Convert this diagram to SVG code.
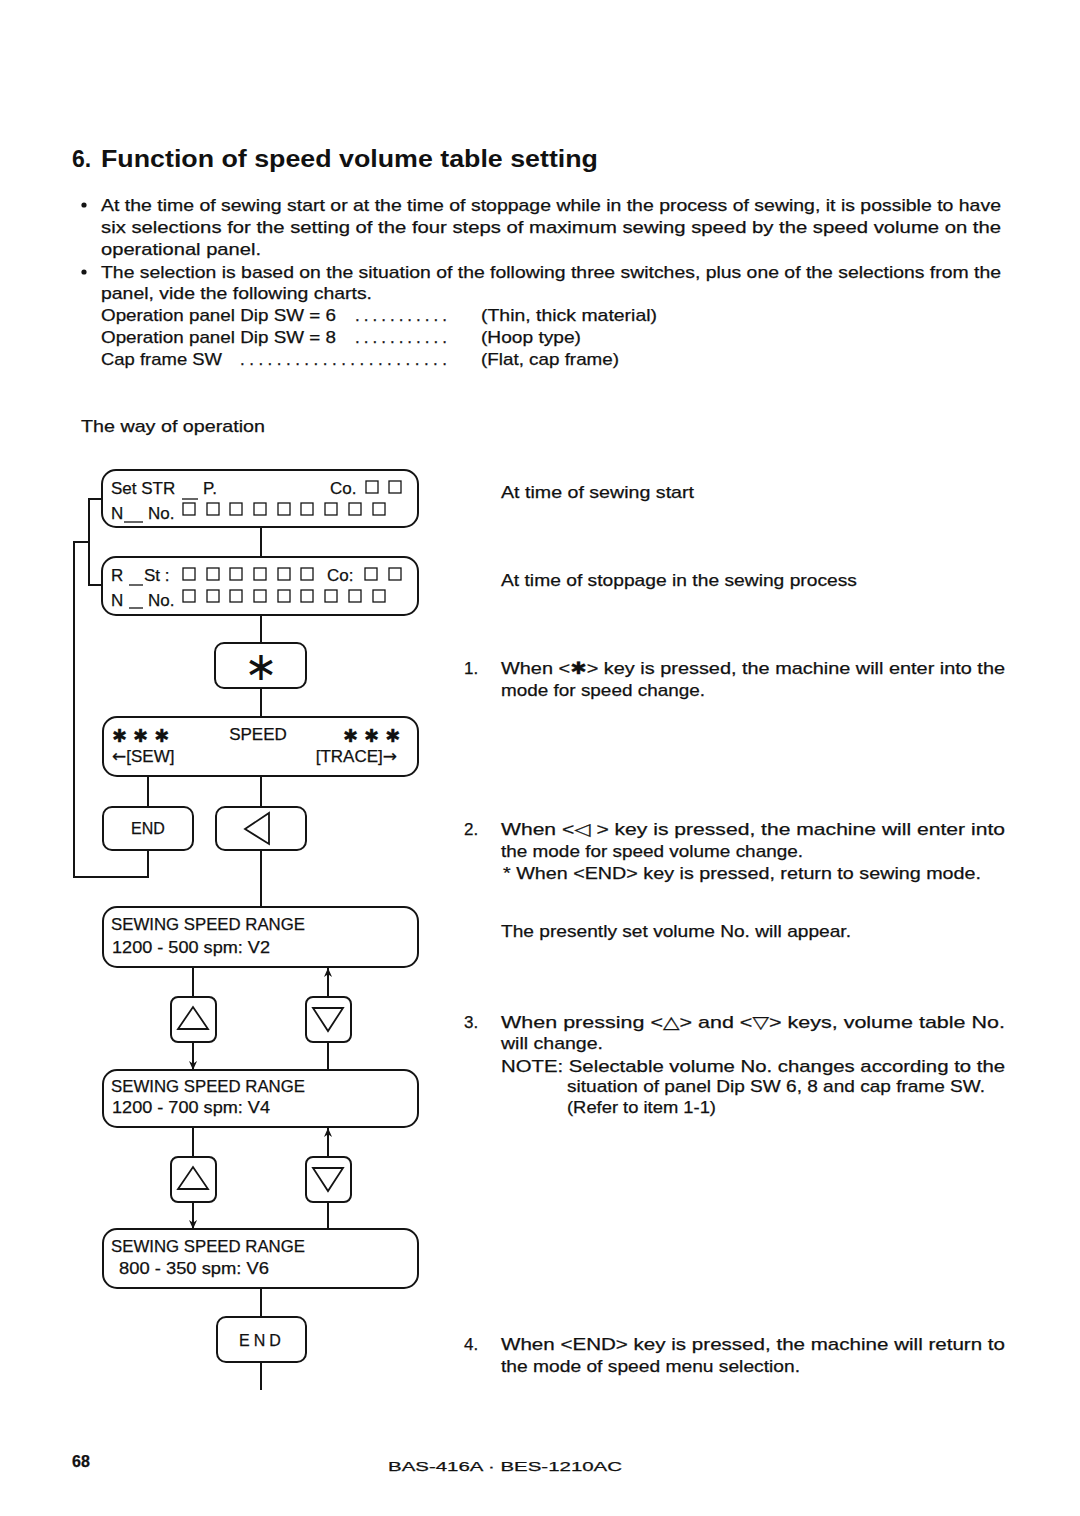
<svg xmlns="http://www.w3.org/2000/svg" xmlns:xlink="http://www.w3.org/1999/xlink" width="1080" height="1516" viewBox="0 0 1080 1516">
<style>
text{font-family:"Liberation Sans",Arial,sans-serif;font-size:17px;fill:#111;stroke:#111;stroke-width:0.25}
.t{font-size:23px;font-weight:bold;stroke-width:0}
.sym{font-family:"DejaVu Sans",sans-serif}
.star{font-family:"DejaVu Sans",sans-serif;font-size:40px;stroke-width:0}
.stars{font-family:"DejaVu Sans",sans-serif;font-size:18px;letter-spacing:6px}
.key{font-size:16px}
.box{fill:none;stroke:#141414;stroke-width:2}
.ln{fill:none;stroke:#141414;stroke-width:2}
.sq{fill:none;stroke:#141414;stroke-width:1.3}
.ico{fill:none;stroke:#141414;stroke-width:1.8;stroke-linejoin:miter}
.ft{font-size:13px}
.pg{font-size:16px;font-weight:bold}
</style>
<defs>
<rect id="sq" class="sq" width="12" height="12"/>
<marker id="ah" viewBox="0 0 10 10" refX="10" refY="5" markerWidth="13" markerHeight="9" markerUnits="userSpaceOnUse" orient="auto">
<path d="M0,0.5 L10,5 L0,9.5 L3,5 Z" fill="#141414"/>
</marker>
</defs>
<rect width="1080" height="1516" fill="#fff"/>

<text class="t" x="72" y="167">6.</text>
<text class="t" x="101" y="167" textLength="497" lengthAdjust="spacingAndGlyphs">Function of speed volume table setting</text>

<circle cx="84" cy="205" r="2.6" fill="#141414"/>
<text x="101" y="211" textLength="900" lengthAdjust="spacingAndGlyphs">At the time of sewing start or at the time of stoppage while in the process of sewing, it is possible to have</text>
<text x="101" y="233" textLength="900" lengthAdjust="spacingAndGlyphs">six selections for the setting of the four steps of maximum sewing speed by the speed volume on the</text>
<text x="101" y="255" textLength="160" lengthAdjust="spacingAndGlyphs">operational panel.</text>
<circle cx="84" cy="272" r="2.6" fill="#141414"/>
<text x="101" y="278" textLength="900" lengthAdjust="spacingAndGlyphs">The selection is based on the situation of the following three switches, plus one of the selections from the</text>
<text x="101" y="299" textLength="271" lengthAdjust="spacingAndGlyphs">panel, vide the following charts.</text>
<text x="101" y="321" textLength="235" lengthAdjust="spacingAndGlyphs">Operation panel Dip SW = 6</text>
<text x="355" y="321" textLength="92" lengthAdjust="spacing">...........</text>
<text x="481" y="321" textLength="176" lengthAdjust="spacingAndGlyphs">(Thin, thick material)</text>
<text x="101" y="343" textLength="235" lengthAdjust="spacingAndGlyphs">Operation panel Dip SW = 8</text>
<text x="355" y="343" textLength="92" lengthAdjust="spacing">...........</text>
<text x="481" y="343" textLength="100" lengthAdjust="spacingAndGlyphs">(Hoop type)</text>
<text x="101" y="365" textLength="121" lengthAdjust="spacingAndGlyphs">Cap frame SW</text>
<text x="240" y="365" textLength="207" lengthAdjust="spacing">.......................</text>
<text x="481" y="365" textLength="138" lengthAdjust="spacingAndGlyphs">(Flat, cap frame)</text>

<text x="81" y="432" textLength="184" lengthAdjust="spacingAndGlyphs">The way of operation</text>

<g id="connectors">
<path class="ln" d="M102,499 H89 V585 H102"/>
<path class="ln" d="M89,542 H74 V877 H148 V850"/>
<path class="ln" d="M261,527 V557"/>
<path class="ln" d="M261,615 V643"/>
<path class="ln" d="M261,688 V717"/>
<path class="ln" d="M148,776 V807"/>
<path class="ln" d="M261,776 V807"/>
<path class="ln" d="M261,850 V907"/>
<path class="ln" d="M193,967 V997"/>
<path class="ln" d="M193,1042 V1070" marker-end="url(#ah)"/>
<path class="ln" d="M328,1070 V1042"/>
<path class="ln" d="M328,997 V968" marker-end="url(#ah)"/>
<path class="ln" d="M193,1127 V1157"/>
<path class="ln" d="M193,1202 V1229" marker-end="url(#ah)"/>
<path class="ln" d="M328,1229 V1202"/>
<path class="ln" d="M328,1157 V1128" marker-end="url(#ah)"/>
<path class="ln" d="M261,1288 V1317"/>
<path class="ln" d="M261,1362 V1390"/>
</g>

<g id="disp-set">
<rect class="box" x="102" y="470" width="316" height="57" rx="14"/>
<text x="111" y="494">Set STR</text>
<text x="203" y="494">P.</text>
<text x="330" y="494">Co.</text>
<use xlink:href="#sq" x="366" y="481"/><use xlink:href="#sq" x="389" y="481"/>
<text x="111" y="519">N</text>
<line class="sq" x1="124" y1="522" x2="143" y2="522"/>
<text x="148" y="519">No.</text>
<line class="sq" x1="182" y1="499" x2="198" y2="499"/>
<use xlink:href="#sq" x="183" y="503"/><use xlink:href="#sq" x="207" y="503"/><use xlink:href="#sq" x="230" y="503"/><use xlink:href="#sq" x="254" y="503"/><use xlink:href="#sq" x="278" y="503"/><use xlink:href="#sq" x="301" y="503"/><use xlink:href="#sq" x="325" y="503"/><use xlink:href="#sq" x="349" y="503"/><use xlink:href="#sq" x="373" y="503"/>
</g>

<g id="disp-stop">
<rect class="box" x="102" y="557" width="316" height="58" rx="14"/>
<text x="111" y="581">R</text>
<line class="sq" x1="129" y1="585" x2="143" y2="585"/>
<text x="144" y="581">St :</text>
<use xlink:href="#sq" x="183" y="568"/><use xlink:href="#sq" x="207" y="568"/><use xlink:href="#sq" x="230" y="568"/><use xlink:href="#sq" x="254" y="568"/><use xlink:href="#sq" x="278" y="568"/><use xlink:href="#sq" x="301" y="568"/>
<text x="327" y="581">Co:</text>
<use xlink:href="#sq" x="365" y="568"/><use xlink:href="#sq" x="389" y="568"/>
<text x="111" y="606">N</text>
<line class="sq" x1="129" y1="608" x2="143" y2="608"/>
<text x="148" y="606">No.</text>
<use xlink:href="#sq" x="183" y="590"/><use xlink:href="#sq" x="207" y="590"/><use xlink:href="#sq" x="230" y="590"/><use xlink:href="#sq" x="254" y="590"/><use xlink:href="#sq" x="278" y="590"/><use xlink:href="#sq" x="301" y="590"/><use xlink:href="#sq" x="325" y="590"/><use xlink:href="#sq" x="349" y="590"/><use xlink:href="#sq" x="373" y="590"/>
</g>

<g id="key-star">
<rect class="box" x="215" y="643" width="91" height="45" rx="9"/>
<text class="star" x="261" y="680" text-anchor="middle">∗</text>
</g>

<g id="disp-speed">
<rect class="box" x="103" y="717" width="315" height="59" rx="14"/>
<text class="stars" x="112" y="742">✱✱✱</text>
<text x="258" y="740" text-anchor="middle">SPEED</text>
<text class="stars" x="343" y="742">✱✱✱</text>
<text x="112" y="762"><tspan class="sym">←</tspan>[SEW]</text>
<text x="397" y="762" text-anchor="end">[TRACE]<tspan class="sym">→</tspan></text>
</g>

<g id="key-end1">
<rect class="box" x="103" y="807" width="90" height="43" rx="9"/>
<text class="key" x="148" y="834" text-anchor="middle">END</text>
</g>

<g id="key-left">
<rect class="box" x="216" y="807" width="90" height="43" rx="9"/>
<polygon class="ico" points="245,829 269,813 269,844"/>
</g>

<g id="disp-v2">
<rect class="box" x="103" y="907" width="315" height="60" rx="14"/>
<text x="111" y="930" textLength="194" lengthAdjust="spacingAndGlyphs">SEWING SPEED RANGE</text>
<text x="112" y="953" textLength="158" lengthAdjust="spacingAndGlyphs">1200 - 500 spm: V2</text>
</g>

<g id="key-up1">
<rect class="box" x="171" y="997" width="45" height="45" rx="7"/>
<polygon class="ico" points="178,1029 208,1029 193,1007"/>
</g>
<g id="key-down1">
<rect class="box" x="306" y="997" width="45" height="45" rx="7"/>
<polygon class="ico" points="313,1008 343,1008 328,1031"/>
</g>

<g id="disp-v4">
<rect class="box" x="103" y="1070" width="315" height="57" rx="14"/>
<text x="111" y="1092" textLength="194" lengthAdjust="spacingAndGlyphs">SEWING SPEED RANGE</text>
<text x="112" y="1113" textLength="158" lengthAdjust="spacingAndGlyphs">1200 - 700 spm: V4</text>
</g>

<g id="key-up2">
<rect class="box" x="171" y="1157" width="45" height="45" rx="7"/>
<polygon class="ico" points="178,1189 208,1189 193,1167"/>
</g>
<g id="key-down2">
<rect class="box" x="306" y="1157" width="45" height="45" rx="7"/>
<polygon class="ico" points="313,1168 343,1168 328,1191"/>
</g>

<g id="disp-v6">
<rect class="box" x="103" y="1229" width="315" height="59" rx="14"/>
<text x="111" y="1252" textLength="194" lengthAdjust="spacingAndGlyphs">SEWING SPEED RANGE</text>
<text x="119" y="1274" textLength="150" lengthAdjust="spacingAndGlyphs">800 - 350 spm: V6</text>
</g>

<g id="key-end2">
<rect class="box" x="217" y="1317" width="89" height="45" rx="9"/>
<text class="key" x="262" y="1346" text-anchor="middle" letter-spacing="4">END</text>
</g>

<g id="notes">
<text x="501" y="498" textLength="193" lengthAdjust="spacingAndGlyphs">At time of sewing start</text>
<text x="501" y="586" textLength="356" lengthAdjust="spacingAndGlyphs">At time of stoppage in the sewing process</text>
<text x="464" y="674">1.</text>
<text x="501" y="674" textLength="504" lengthAdjust="spacingAndGlyphs">When &lt;<tspan class="sym">✱</tspan>&gt; key is pressed, the machine will enter into the</text>
<text x="501" y="696" textLength="204" lengthAdjust="spacingAndGlyphs">mode for speed change.</text>
<text x="464" y="835">2.</text>
<text x="501" y="835" textLength="504" lengthAdjust="spacingAndGlyphs">When &lt;<tspan class="sym">◁</tspan>  &gt; key is pressed, the machine will enter into</text>
<text x="501" y="857" textLength="302" lengthAdjust="spacingAndGlyphs">the mode for speed volume change.</text>
<text x="503" y="879" textLength="478" lengthAdjust="spacingAndGlyphs">*  When &lt;END&gt; key is pressed, return to sewing mode.</text>
<text x="501" y="937" textLength="350" lengthAdjust="spacingAndGlyphs">The presently set volume No. will appear.</text>
<text x="464" y="1028">3.</text>
<text x="501" y="1028" textLength="504" lengthAdjust="spacingAndGlyphs">When pressing &lt;<tspan class="sym">△</tspan>&gt; and &lt;<tspan class="sym">▽</tspan>&gt; keys, volume table No.</text>
<text x="501" y="1049" textLength="102" lengthAdjust="spacingAndGlyphs">will change.</text>
<text x="501" y="1072" textLength="504" lengthAdjust="spacingAndGlyphs">NOTE:  Selectable volume No. changes according to the</text>
<text x="567" y="1092" textLength="418" lengthAdjust="spacingAndGlyphs">situation of panel Dip SW 6, 8 and cap frame SW.</text>
<text x="567" y="1113" textLength="149" lengthAdjust="spacingAndGlyphs">(Refer to item 1-1)</text>
<text x="464" y="1350">4.</text>
<text x="501" y="1350" textLength="504" lengthAdjust="spacingAndGlyphs">When &lt;END&gt; key is pressed, the machine will return to</text>
<text x="501" y="1372" textLength="299" lengthAdjust="spacingAndGlyphs">the mode of speed menu selection.</text>
</g>

<text class="pg" x="72" y="1467">68</text>
<text class="ft" x="388" y="1471" textLength="234" lengthAdjust="spacingAndGlyphs">BAS-416A · BES-1210AC</text>
</svg>
